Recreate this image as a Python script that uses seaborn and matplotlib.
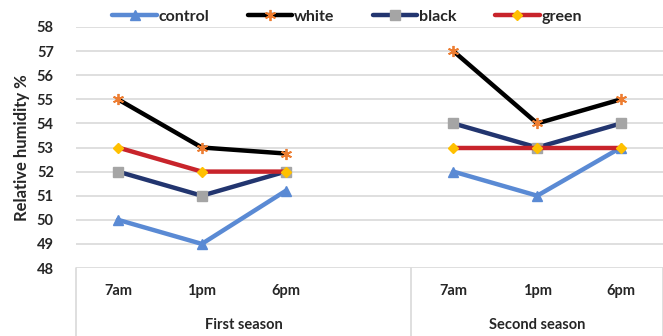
import matplotlib
matplotlib.use("Agg")
import matplotlib.pyplot as plt
import seaborn as sns
import pandas as pd

# data
times = ["7am", "1pm", "6pm"]
seasons = ["First season", "Second season"]
control = [50, 49, 51.2, 52, 51, 53]
white = [55, 53, 52.75, 57, 54, 55]
black = [52, 51, 52, 54, 53, 54]
green = [53, 52, 52, 53, 53, 53]

series = {"control": control, "white": white, "black": black, "green": green}
styles = {
    "control": dict(color="#5A8AD4", marker="^", mfc="#5A8AD4", mec="#5A8AD4", ms=7, mew=1),
    "white": dict(color="black", marker=(6, 2, 0), mfc="#ED7D31", mec="#ED7D31", ms=8, mew=1.3),
    "black": dict(color="#22356F", marker="s", mfc="#A5A5A5", mec="#A5A5A5", ms=6.5, mew=1),
    "green": dict(color="#C8242B", marker="D", mfc="#FFC000", mec="#FFC000", ms=5.5, mew=1),
}

# positions: 3 slots per season, blank slot between seasons
pos = [0, 1, 2, 4, 5, 6]

rows = []
for name, vals in series.items():
    for i, v in enumerate(vals):
        rows.append(dict(series=name, pos=pos[i], value=v, season=seasons[i // 3]))
df = pd.DataFrame(rows)

sns.set_style("white")
plt.rcParams["font.family"] = ["Lato", "DejaVu Sans"]

fig = plt.figure(figsize=(6.63, 3.36), dpi=100)
ax = fig.add_axes([76 / 663, 68 / 336, (663 - 76) / 663, 241 / 336])

for name in series:
    for s in seasons:
        sub = df[(df.series == name) & (df.season == s)]
        sns.lineplot(data=sub, x="pos", y="value", ax=ax, lw=3.2,
                     label=name if s == seasons[0] else None, **styles[name])

ax.set_xlim(-0.5, 6.5)
ax.set_ylim(48, 58)
ax.set_yticks(range(48, 59))
ax.yaxis.grid(True, color="#D9D9D9", lw=1.2)
ax.set_axisbelow(True)
for sp in ax.spines.values():
    sp.set_visible(False)
ax.set_xticks([])
ax.set_xlabel("")
ax.tick_params(axis="y", length=0, labelsize=10.5, pad=16)
for lab in ax.get_yticklabels():
    lab.set_fontweight("bold")
ax.set_ylabel("Relative humidity %", fontsize=12, fontweight="bold", labelpad=5)

# multi-level category axis
trans = ax.get_xaxis_transform()
for x in [-0.5, 3.5, 6.5]:
    ax.plot([x, x], [0, -68 / 241], color="#D9D9D9", lw=1.2, transform=trans, clip_on=False)
for i, p in enumerate(pos):
    ax.text(p, -23 / 241, times[i % 3], transform=trans, ha="center", va="center",
            fontsize=10.5, fontweight="bold")
ax.text(1.5, -57 / 241, seasons[0], transform=trans, ha="center", va="center",
        fontsize=10.5, fontweight="bold")
ax.text(5.0, -57 / 241, seasons[1], transform=trans, ha="center", va="center",
        fontsize=10.5, fontweight="bold")

leg = ax.legend(loc="center", bbox_to_anchor=(347 / 663, 1 - 17 / 336), bbox_transform=fig.transFigure,
                ncol=4, frameon=False, handlelength=2.8, handletextpad=0.1, columnspacing=2.4,
                prop={"weight": "bold", "size": 11.5})

fig.savefig("out.png", dpi=100)
